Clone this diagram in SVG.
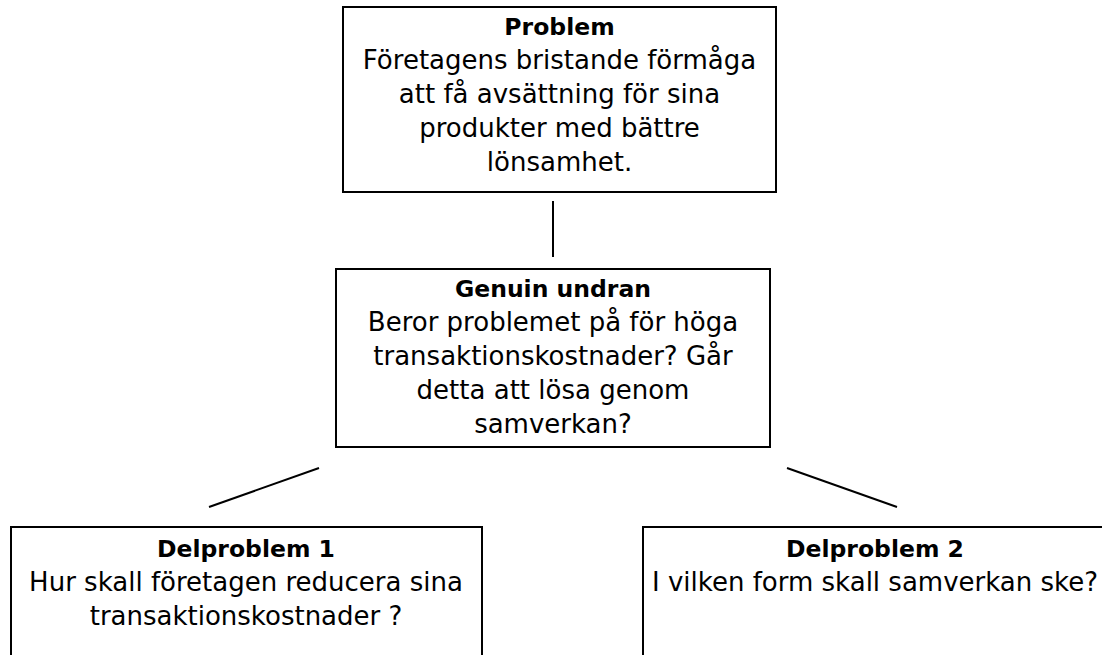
<svg xmlns="http://www.w3.org/2000/svg" width="1102" height="655" viewBox="0 0 1102 655">
<style>
.box{fill:#fff;stroke:#000;stroke-width:2}
.t{font-family:"DejaVu Sans",sans-serif;font-size:26px;fill:#000;text-anchor:middle}
.b{font-weight:bold;font-size:23.5px}
.c{stroke:#000;stroke-width:2;fill:none}
</style>
<rect width="1102" height="655" fill="#fff"/>
<g id="connectors">
<line class="c" x1="553" y1="201" x2="553" y2="257"/>
<line class="c" x1="319" y1="468" x2="209" y2="507"/>
<line class="c" x1="787" y1="468" x2="897" y2="507"/>
</g>
<g id="problem">
<rect class="box" x="343" y="7" width="433" height="185"/>
<text class="t b" x="559.5" y="35">Problem</text>
<text class="t" x="559.5" y="69">Företagens bristande förmåga</text>
<text class="t" x="559.5" y="103">att få avsättning för sina</text>
<text class="t" x="559.5" y="137">produkter med bättre</text>
<text class="t" x="559.5" y="171">lönsamhet.</text>
</g>
<g id="genuin">
<rect class="box" x="336" y="269" width="434" height="178"/>
<text class="t b" x="553" y="297">Genuin undran</text>
<text class="t" x="553" y="331">Beror problemet på för höga</text>
<text class="t" x="553" y="365">transaktionskostnader? Går</text>
<text class="t" x="553" y="399">detta att lösa genom</text>
<text class="t" x="553" y="433">samverkan?</text>
</g>
<g id="delproblem1">
<rect class="box" x="11" y="527" width="471" height="140"/>
<text class="t b" x="246" y="557">Delproblem 1</text>
<text class="t" x="246" y="591">Hur skall företagen reducera sina</text>
<text class="t" x="246" y="625">transaktionskostnader ?</text>
</g>
<g id="delproblem2">
<rect class="box" x="643" y="527" width="470" height="140"/>
<text class="t b" x="875" y="557">Delproblem 2</text>
<text class="t" x="875" y="591">I vilken form skall samverkan ske?</text>
</g>
</svg>
